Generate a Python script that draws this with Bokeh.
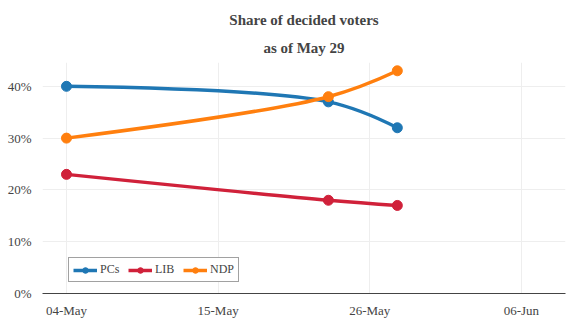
import numpy as np
import pandas as pd
from bokeh.plotting import figure
from bokeh.models import (Range1d, FixedTicker, DatetimeTickFormatter, PrintfTickFormatter,
                          Legend, LegendItem, ColumnDataSource, Title)
from bokeh.embed import file_html
from bokeh.resources import INLINE

# ---- data ----
dates = ["2018-05-04", "2018-05-23", "2018-05-28"]
parties = ["PCs", "LIB", "NDP"]
pcs = [40, 37, 32]
lib = [23, 18, 17]
ndp = [30, 38, 43]
colors = ["#1f77b4", "#d0213a", "#ff7f0e"]
tick_dates = ["2018-05-04", "2018-05-15", "2018-05-26", "2018-06-06"]
title_lines = ["Share of decided voters", "as of May 29"]

FONT = "'Liberation Serif'"
TXT = "#444444"

xs = pd.to_datetime(dates)
xms = np.array([d.value / 1e6 for d in xs])
DAY = 86400000.0
SX = 13.77  # px per day
SY = 5.175  # px per percent

p = figure(width=580, height=324, output_backend="svg", toolbar_location=None,
           x_axis_type="datetime",
           x_range=Range1d(xms[0] - 1.74 * DAY, xms[0] + 36.2 * DAY),
           y_range=Range1d(0, 44.6),
           min_border_left=42, min_border_right=15, min_border_top=62, min_border_bottom=31)
p.title.text = title_lines[0]
sub = Title(text=title_lines[1])
p.add_layout(sub, "above")
for t in [p.title, sub]:
    t.align = "center"
    t.vertical_align = "top"
    t.text_font = FONT
    t.text_font_size = "15px"
    t.text_font_style = "bold"
    t.text_color = TXT
p.title.offset = -2
sub.offset = 7
p.outline_line_color = None

# spline (plotly-like) in pixel-ish space
def tangent(prev, this, nxt, s=1.0):
    d1x, d1y = prev[0] - this[0], prev[1] - this[1]
    d2x, d2y = nxt[0] - this[0], nxt[1] - this[1]
    d1a = (d1x * d1x + d1y * d1y) ** 0.25
    d2a = (d2x * d2x + d2y * d2y) ** 0.25
    numx = (d2a * d2a * d1x - d1a * d1a * d2x) * s
    numy = (d2a * d2a * d1y - d1a * d1a * d2y) * s
    den1 = 3 * d2a * (d1a + d2a)
    den2 = 3 * d1a * (d1a + d2a)
    return ((this[0] + numx / den1, this[1] + numy / den1),
            (this[0] - numx / den2, this[1] - numy / den2))

items = []
for name, vals, col in zip(parties, [pcs, lib, ndp], colors):
    pts = [((xm - xms[0]) / DAY * SX, v * SY) for xm, v in zip(xms, vals)]
    t0, t1 = tangent(pts[0], pts[1], pts[2])
    def back(pt):
        return (xms[0] + pt[0] / SX * DAY, pt[1] / SY)
    c0 = back(t0)
    c1 = back(t1)
    src = ColumnDataSource(dict(
        x0=[xms[0], xms[1]], y0=[vals[0], vals[1]],
        x1=[xms[1], xms[2]], y1=[vals[1], vals[2]],
        cx=[c0[0], c1[0]], cy=[c0[1], c1[1]]))
    p.quadratic(x0="x0", y0="y0", x1="x1", y1="y1", cx="cx", cy="cy", source=src,
                line_color=col, line_width=3.5)
    dummy = p.line(x=[xms[0]], y=[vals[0]], line_color=col, line_width=3.5)
    sc = p.scatter(x=xms, y=vals, size=10, fill_color=col, line_color=col)
    items.append(LegendItem(label=name, renderers=[dummy, sc]))

legend = Legend(items=items, orientation="horizontal", location=(26, 11),
                label_text_font=FONT, label_text_font_size="12px", label_text_color=TXT,
                border_line_color="#444444", border_line_width=1,
                background_fill_color="white", background_fill_alpha=1.0,
                glyph_width=24, glyph_height=14, padding=4, spacing=8, margin=0,
                label_standoff=3)
p.add_layout(legend, "center")

# axes
p.xaxis.ticker = FixedTicker(ticks=[pd.Timestamp(d).value / 1e6 for d in tick_dates])
p.xaxis.formatter = DatetimeTickFormatter(days="%d-%b", months="%d-%b")
p.yaxis.ticker = FixedTicker(ticks=[0, 10, 20, 30, 40])
p.yaxis.formatter = PrintfTickFormatter(format="%d%%")
for ax in [p.xaxis[0], p.yaxis[0]]:
    ax.major_tick_line_color = None
    ax.minor_tick_line_color = None
    ax.major_label_text_font = FONT
    ax.major_label_text_font_size = "13px"
    ax.major_label_text_color = TXT
p.yaxis.axis_line_color = None
p.yaxis.major_label_standoff = 5
p.xaxis.axis_line_color = "#444444"
p.xaxis.axis_line_width = 1
p.xaxis.major_label_standoff = 3
p.xgrid.grid_line_color = "#eeeeee"
p.ygrid.grid_line_color = "#eeeeee"

open("out.html", "w").write(file_html(p, INLINE))
